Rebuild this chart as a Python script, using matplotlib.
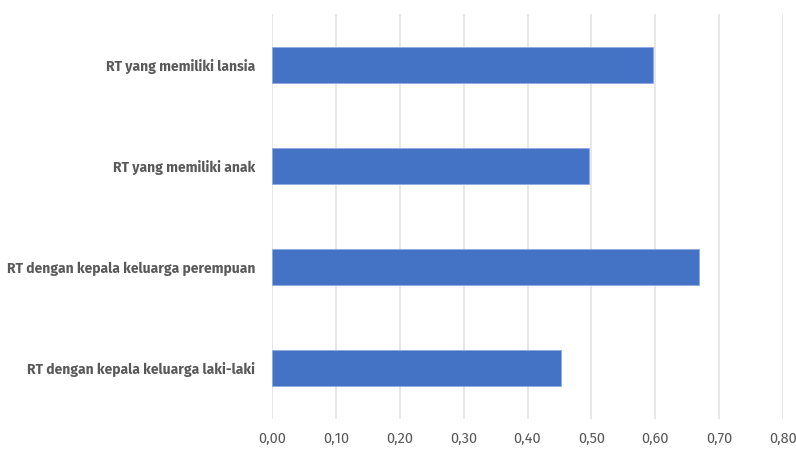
import matplotlib.pyplot as plt
import numpy as np

# kategori rumah tangga, dari bawah ke atas
kategori = [
    "RT dengan kepala keluarga laki-laki",
    "RT dengan kepala keluarga perempuan",
    "RT yang memiliki anak",
    "RT yang memiliki lansia",
]
nilai = [0.453, 0.669, 0.496, 0.596]
xticks = [0.0, 0.1, 0.2, 0.3, 0.4, 0.5, 0.6, 0.7, 0.8]

plt.rcParams['font.family'] = ['Fira Sans', 'Open Sans', 'DejaVu Sans']

fig = plt.figure(figsize=(7.96, 4.49), dpi=100)
ax = fig.add_axes([272 / 796, 1 - 419 / 449, (783 - 272) / 796, (419 - 14) / 449])

y = np.arange(len(kategori))
ax.barh(y, nilai, height=0.355, color="#4472C4", edgecolor="#8faadc", linewidth=0.6, zorder=3)

ax.set_xlim(0, 0.8)
ax.set_ylim(-0.5, len(kategori) - 0.5)
ax.set_xticks(xticks)
ax.set_xticklabels([f"{v:.2f}".replace(".", ",") for v in xticks])
ax.set_yticks(y)
ax.set_yticklabels(kategori, fontweight="bold")

ax.grid(axis="x", color="#e3e3e3", linewidth=1.2, zorder=0)
for s in ax.spines.values():
    s.set_visible(False)
ax.tick_params(axis="x", length=0, pad=9, labelsize=10.5, labelcolor="#595959")
ax.tick_params(axis="y", length=0, pad=12, labelsize=10.05, labelcolor="#595959")

fig.savefig("out.png", dpi=100)
